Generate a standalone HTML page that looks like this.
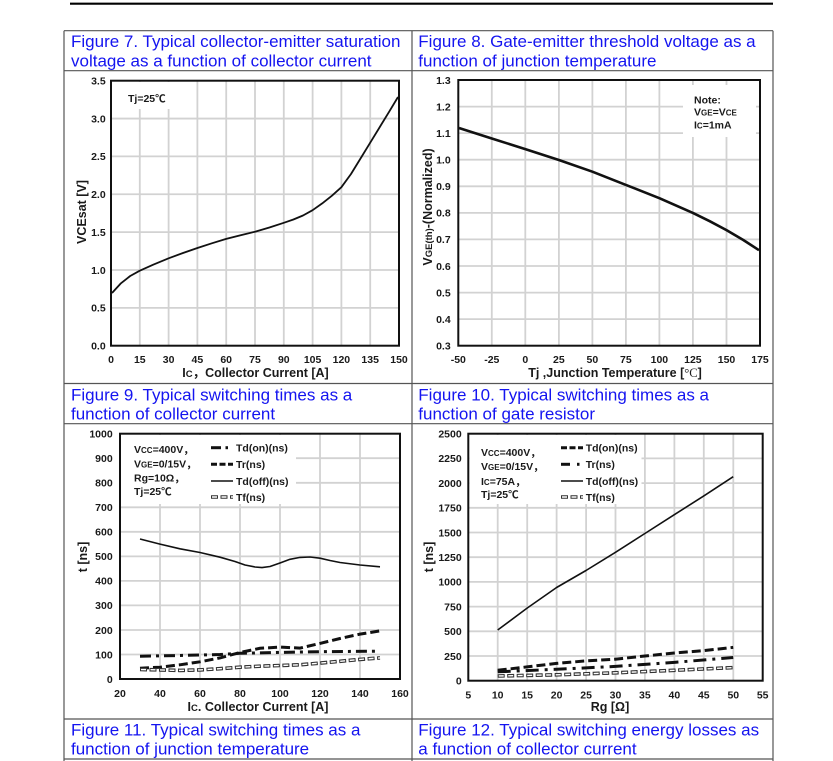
<!DOCTYPE html>
<html>
<head>
<meta charset="utf-8">
<style>
html,body{margin:0;padding:0;background:#fff;}
body{width:833px;height:761px;overflow:hidden;}
svg{display:block;}
.t{font-family:"Liberation Sans",Arial,sans-serif;font-size:17px;fill:#1414f0;}
.tk{font-family:"Liberation Sans",Arial,sans-serif;font-size:10.5px;font-weight:bold;fill:#1a1a1a;}
.ax{font-family:"Liberation Sans","Noto Sans CJK SC",Arial,sans-serif;font-size:12.5px;font-weight:bold;fill:#1a1a1a;}
.lg{font-family:"Liberation Sans","Noto Sans CJK SC",Arial,sans-serif;font-size:10.5px;font-weight:bold;fill:#1a1a1a;}
.g{stroke:#d2d2d2;stroke-width:1.8;fill:none;}
.b{stroke:#111;stroke-width:2;fill:none;}
.tfo{fill:none;stroke:#333;stroke-width:3.6;stroke-dasharray:7 2.5;}
.tfi{fill:none;stroke:#fff;stroke-width:1.4;stroke-dasharray:5 4.5;stroke-dashoffset:-1;}
</style>
</head>
<body>
<svg width="833" height="761" viewBox="0 0 833 761" xmlns="http://www.w3.org/2000/svg">
<!-- top rule -->
<line x1="70" y1="3.7" x2="773" y2="3.7" stroke="#000" stroke-width="2.2"/>

<!-- table -->
<g stroke="#555" stroke-width="1.2" fill="none">
<line x1="64" y1="30.7" x2="773" y2="30.7"/>
<line x1="64" y1="70.7" x2="773" y2="70.7"/>
<line x1="64" y1="383.5" x2="773" y2="383.5"/>
<line x1="64" y1="423.7" x2="773" y2="423.7"/>
<line x1="64" y1="719" x2="773" y2="719"/>
<line x1="64" y1="759" x2="773" y2="759"/>
<line x1="64" y1="30.7" x2="64" y2="761"/>
<line x1="412" y1="30.7" x2="412" y2="761"/>
<line x1="773" y1="30.7" x2="773" y2="761"/>
</g>

<!-- titles -->
<text class="t" x="71" y="47">Figure 7. Typical collector-emitter saturation</text>
<text class="t" x="71" y="66.3">voltage as a function of collector current</text>
<text class="t" x="418.3" y="47">Figure 8. Gate-emitter threshold voltage as a</text>
<text class="t" x="418.3" y="66.3">function of junction temperature</text>
<text class="t" x="71" y="400.3">Figure 9. Typical switching times as a</text>
<text class="t" x="71" y="419.6">function of collector current</text>
<text class="t" x="418.3" y="400.3">Figure 10. Typical switching times as a</text>
<text class="t" x="418.3" y="419.6">function of gate resistor</text>
<text class="t" x="71" y="735.3">Figure 11. Typical switching times as a</text>
<text class="t" x="71" y="754.6">function of junction temperature</text>
<text class="t" x="418.3" y="735.3">Figure 12. Typical switching energy losses as</text>
<text class="t" x="418.3" y="754.6">a function of collector current</text>

<!-- ================= CHART 1 ================= -->
<g class="g">
<path d="M139.8,80.7V345.7M168.6,80.7V345.7M197.4,80.7V345.7M226.2,80.7V345.7M255,80.7V345.7M283.8,80.7V345.7M312.6,80.7V345.7M341.4,80.7V345.7M370.2,80.7V345.7"/>
<path d="M111,118.56H399M111,156.41H399M111,194.27H399M111,232.13H399M111,269.99H399M111,307.84H399"/>
</g>
<rect x="112" y="82" width="71" height="27" fill="#fff"/>
<rect class="b" x="111" y="80.7" width="288" height="265"/>
<path d="M112,293 L120.6,283.6 L130.2,276.0 L139.8,270.7 L153.2,264.7 L168.6,258.3 L183,253 L197.4,248 L211.8,243.3 L226.2,238.9 L240.6,235.2 L255,231.7 L269.4,227.5 L283.8,222.8 L293.4,219.5 L303,215.5 L312.6,210.2 L322.2,203.4 L331.8,195.8 L341.4,187.2 L351,174 L360.6,158.4 L370.2,142.7 L379.8,127 L389.4,111.3 L398,97" fill="none" stroke="#111" stroke-width="1.8" stroke-linejoin="round"/>
<text class="lg" x="128" y="102">Tj=25℃</text>
<g class="tk" text-anchor="end">
<text x="105.7" y="84.5">3.5</text>
<text x="105.7" y="122.4">3.0</text>
<text x="105.7" y="160.2">2.5</text>
<text x="105.7" y="198.1">2.0</text>
<text x="105.7" y="235.9">1.5</text>
<text x="105.7" y="273.8">1.0</text>
<text x="105.7" y="311.6">0.5</text>
<text x="105.7" y="349.5">0.0</text>
</g>
<g class="tk" text-anchor="middle">
<text x="111" y="363">0</text>
<text x="139.8" y="363">15</text>
<text x="168.6" y="363">30</text>
<text x="197.4" y="363">45</text>
<text x="226.2" y="363">60</text>
<text x="255" y="363">75</text>
<text x="283.8" y="363">90</text>
<text x="312.6" y="363">105</text>
<text x="341.4" y="363">120</text>
<text x="370.2" y="363">135</text>
<text x="399" y="363">150</text>
</g>
<text class="ax" x="255.5" y="377" text-anchor="middle">I<tspan font-size="9.5">C</tspan>，Collector Current  [A]</text>
<text class="ax" x="86" y="212" text-anchor="middle" transform="rotate(-90 86 212)">VCEsat [V]</text>

<!-- ================= CHART 2 ================= -->
<g class="g">
<path d="M491.8,80V345.7M525.3,80V345.7M558.9,80V345.7M592.4,80V345.7M625.9,80V345.7M659.4,80V345.7M692.9,80V345.7M726.5,80V345.7"/>
<path d="M458.3,106.6H760M458.3,133.1H760M458.3,159.7H760M458.3,186.3H760M458.3,212.9H760M458.3,239.4H760M458.3,266H760M458.3,292.6H760M458.3,319.1H760"/>
</g>
<rect x="683" y="85" width="73" height="52" fill="#fff"/>
<rect class="b" x="458.3" y="80" width="301.7" height="265.7"/>
<path d="M459,128 L491.8,138.5 L525.3,149.1 L558.9,160 L592.4,171.7 L625.9,184.9 L659.4,198.2 L692.9,212.9 L709.7,221.2 L726.5,230.1 L743.3,240 L759,250.2" fill="none" stroke="#111" stroke-width="2.6" stroke-linejoin="round"/>
<text class="lg" x="694" y="103.5">Note:</text>
<text class="lg" x="694" y="115.5">V<tspan font-size="8">GE</tspan>=V<tspan font-size="8">CE</tspan></text>
<text class="lg" x="694" y="128.5">I<tspan font-size="8">C</tspan>=1mA</text>
<g class="tk" text-anchor="end">
<text x="450.7" y="83.8">1.3</text>
<text x="450.7" y="110.4">1.2</text>
<text x="450.7" y="136.9">1.1</text>
<text x="450.7" y="163.5">1.0</text>
<text x="450.7" y="190.1">0.9</text>
<text x="450.7" y="216.7">0.8</text>
<text x="450.7" y="243.2">0.7</text>
<text x="450.7" y="269.8">0.6</text>
<text x="450.7" y="296.4">0.5</text>
<text x="450.7" y="322.9">0.4</text>
<text x="450.7" y="349.5">0.3</text>
</g>
<g class="tk" text-anchor="middle">
<text x="458.3" y="363">-50</text>
<text x="491.8" y="363">-25</text>
<text x="525.3" y="363">0</text>
<text x="558.9" y="363">25</text>
<text x="592.4" y="363">50</text>
<text x="625.9" y="363">75</text>
<text x="659.4" y="363">100</text>
<text x="692.9" y="363">125</text>
<text x="726.5" y="363">150</text>
<text x="760" y="363">175</text>
</g>
<text class="ax" x="615" y="377" text-anchor="middle">Tj ,Junction Temperature [<tspan font-family="Liberation Serif,serif" font-weight="normal">°C</tspan>]</text>
<text class="ax" x="432" y="207" text-anchor="middle" transform="rotate(-90 432 207)">V<tspan font-size="9.5">GE(th)</tspan>-(Normalized)</text>

<!-- ================= CHART 3 ================= -->
<g class="g">
<path d="M160,433.7V679M200,433.7V679M240,433.7V679M280,433.7V679M320,433.7V679M360,433.7V679"/>
<path d="M120,458.2H400M120,482.8H400M120,507.3H400M120,531.8H400M120,556.4H400M120,580.9H400M120,605.4H400M120,630H400M120,654.5H400"/>
</g>
<rect x="121" y="435" width="175" height="69" fill="#fff"/>
<rect class="b" x="120" y="433.7" width="280" height="245.3"/>
<!-- Td(off) -->
<path d="M140,539 L160,544.1 L180,548.8 L200,552.5 L220,557.2 L235,561.5 L245,565 L255,567 L262,567.6 L270,566.5 L280,563 L290,559.3 L300,557.4 L310,557 L320,558.2 L330,560.5 L340,562.5 L360,565 L380,566.8" fill="none" stroke="#111" stroke-width="1.6" stroke-linejoin="round"/>
<!-- Td(on) dash-dot -->
<path d="M140,656.2 L180,655.5 L220,654.5 L240,653.3 L280,652.4 L320,651.7 L375,651.2" fill="none" stroke="#111" stroke-width="3" stroke-dasharray="11 5 3 5"/>
<!-- Tr dashed -->
<path d="M140,668.2 L160,667.2 L180,664.8 L200,661.8 L220,657.9 L240,652.5 L260,648.3 L280,647.1 L300,648.1 L320,643.4 L340,638.5 L360,634.1 L380,630.9" fill="none" stroke="#111" stroke-width="3" stroke-dasharray="9 4"/>
<!-- Tf hollow -->
<path class="tfo" d="M140,669.5 L160,669.9 L180,670.4 L200,669.9 L220,668.7 L240,667.2 L260,666.2 L280,665.5 L300,664.8 L320,663.1 L340,661.3 L360,659.4 L380,657.9"/>
<path class="tfi" d="M140,669.5 L160,669.9 L180,670.4 L200,669.9 L220,668.7 L240,667.2 L260,666.2 L280,665.5 L300,664.8 L320,663.1 L340,661.3 L360,659.4 L380,657.9"/>
<!-- legend -->
<text class="lg" x="134" y="453">V<tspan font-size="8">CC</tspan>=400V，</text>
<text class="lg" x="134" y="467.3">V<tspan font-size="8">GE</tspan>=0/15V，</text>
<text class="lg" x="134" y="481.3">Rg=10Ω，</text>
<text class="lg" x="134" y="495">Tj=25℃</text>
<line x1="211" y1="447.7" x2="221" y2="447.7" stroke="#111" stroke-width="3"/>
<line x1="225.5" y1="447.7" x2="228" y2="447.7" stroke="#111" stroke-width="3"/>
<line x1="211" y1="464.3" x2="233" y2="464.3" stroke="#111" stroke-width="3" stroke-dasharray="6 2.5"/>
<line x1="211" y1="481" x2="233" y2="481" stroke="#111" stroke-width="1.6"/>
<line class="tfo" x1="211" y1="497" x2="233" y2="497"/>
<line class="tfi" x1="211" y1="497" x2="233" y2="497"/>
<text class="lg" x="236" y="451.5">Td(on)(ns)</text>
<text class="lg" x="236" y="468.1">Tr(ns)</text>
<text class="lg" x="236" y="484.8">Td(off)(ns)</text>
<text class="lg" x="236" y="500.8">Tf(ns)</text>
<g class="tk" text-anchor="end">
<text x="112.7" y="437.5">1000</text>
<text x="112.7" y="462">900</text>
<text x="112.7" y="486.6">800</text>
<text x="112.7" y="511.1">700</text>
<text x="112.7" y="535.6">600</text>
<text x="112.7" y="560.2">500</text>
<text x="112.7" y="584.7">400</text>
<text x="112.7" y="609.2">300</text>
<text x="112.7" y="633.8">200</text>
<text x="112.7" y="658.3">100</text>
<text x="112.7" y="682.8">0</text>
</g>
<g class="tk" text-anchor="middle">
<text x="120" y="697">20</text>
<text x="160" y="697">40</text>
<text x="200" y="697">60</text>
<text x="240" y="697">80</text>
<text x="280" y="697">100</text>
<text x="320" y="697">120</text>
<text x="360" y="697">140</text>
<text x="400" y="697">160</text>
</g>
<text class="ax" x="258" y="711" text-anchor="middle">I<tspan font-size="9.5">C</tspan>.  Collector Current [A]</text>
<text class="ax" x="87" y="557" text-anchor="middle" transform="rotate(-90 87 557)">t  [ns]</text>

<!-- ================= CHART 4 ================= -->
<g class="g">
<path d="M497.7,433.7V680.7M527.2,433.7V680.7M556.6,433.7V680.7M586.1,433.7V680.7M615.5,433.7V680.7M644.9,433.7V680.7M674.4,433.7V680.7M703.8,433.7V680.7M733.3,433.7V680.7"/>
<path d="M468.3,458.4H762.7M468.3,483.1H762.7M468.3,507.8H762.7M468.3,532.5H762.7M468.3,557.2H762.7M468.3,581.9H762.7M468.3,606.6H762.7M468.3,631.3H762.7M468.3,656H762.7"/>
</g>
<rect x="469.5" y="435" width="172" height="69" fill="#fff"/>
<rect class="b" x="468.3" y="433.7" width="294.4" height="247"/>
<!-- Td(off) -->
<path d="M497.7,630 L527.1,608.1 L556.6,587.5 L586,570.5 L615.5,552.3 L644.9,533.5 L674.3,514.7 L703.8,495.9 L733.2,476.7" fill="none" stroke="#111" stroke-width="1.6" stroke-linejoin="round"/>
<!-- Td(on) dashed -->
<path d="M497.7,670.3 L527.1,666.9 L556.6,663.4 L586,660.9 L615.5,659.2 L644.9,656 L674.3,653 L703.8,650.6 L733.2,647.4" fill="none" stroke="#111" stroke-width="3" stroke-dasharray="9 4"/>
<!-- Tr dash-dot -->
<path d="M497.7,671.8 L556.6,669.3 L615.5,666.4 L674.3,662.4 L733.2,657.5" fill="none" stroke="#111" stroke-width="3" stroke-dasharray="13 6 3 6"/>
<!-- Tf hollow -->
<path class="tfo" d="M497.7,676 L556.6,674.8 L615.5,672.8 L674.3,670.3 L733.2,667.6"/>
<path class="tfi" d="M497.7,676 L556.6,674.8 L615.5,672.8 L674.3,670.3 L733.2,667.6"/>
<!-- legend -->
<text class="lg" x="481" y="456">V<tspan font-size="8">CC</tspan>=400V，</text>
<text class="lg" x="481" y="470">V<tspan font-size="8">GE</tspan>=0/15V，</text>
<text class="lg" x="481" y="485">I<tspan font-size="8">C</tspan>=75A，</text>
<text class="lg" x="481" y="498">Tj=25℃</text>
<line x1="561" y1="447.7" x2="583" y2="447.7" stroke="#111" stroke-width="3" stroke-dasharray="6 2.5"/>
<line x1="561" y1="464.3" x2="570" y2="464.3" stroke="#111" stroke-width="3"/>
<line x1="577" y1="464.3" x2="579.5" y2="464.3" stroke="#111" stroke-width="3"/>
<line x1="561" y1="481" x2="583" y2="481" stroke="#111" stroke-width="1.6"/>
<line class="tfo" x1="561" y1="497" x2="583" y2="497"/>
<line class="tfi" x1="561" y1="497" x2="583" y2="497"/>
<text class="lg" x="585.7" y="451.5">Td(on)(ns)</text>
<text class="lg" x="585.7" y="468.1">Tr(ns)</text>
<text class="lg" x="585.7" y="484.8">Td(off)(ns)</text>
<text class="lg" x="585.7" y="500.8">Tf(ns)</text>
<g class="tk" text-anchor="end">
<text x="461.7" y="437.5">2500</text>
<text x="461.7" y="462.2">2250</text>
<text x="461.7" y="486.9">2000</text>
<text x="461.7" y="511.6">1750</text>
<text x="461.7" y="536.3">1500</text>
<text x="461.7" y="561">1250</text>
<text x="461.7" y="585.7">1000</text>
<text x="461.7" y="610.4">750</text>
<text x="461.7" y="635.1">500</text>
<text x="461.7" y="659.8">250</text>
<text x="461.7" y="684.5">0</text>
</g>
<g class="tk" text-anchor="middle">
<text x="468.3" y="698.7">5</text>
<text x="497.7" y="698.7">10</text>
<text x="527.2" y="698.7">15</text>
<text x="556.6" y="698.7">20</text>
<text x="586.1" y="698.7">25</text>
<text x="615.5" y="698.7">30</text>
<text x="644.9" y="698.7">35</text>
<text x="674.4" y="698.7">40</text>
<text x="703.8" y="698.7">45</text>
<text x="733.3" y="698.7">50</text>
<text x="762.7" y="698.7">55</text>
</g>
<text class="ax" x="610" y="711" text-anchor="middle">Rg [Ω]</text>
<text class="ax" x="433" y="557" text-anchor="middle" transform="rotate(-90 433 557)">t  [ns]</text>
</svg>
</body>
</html>
